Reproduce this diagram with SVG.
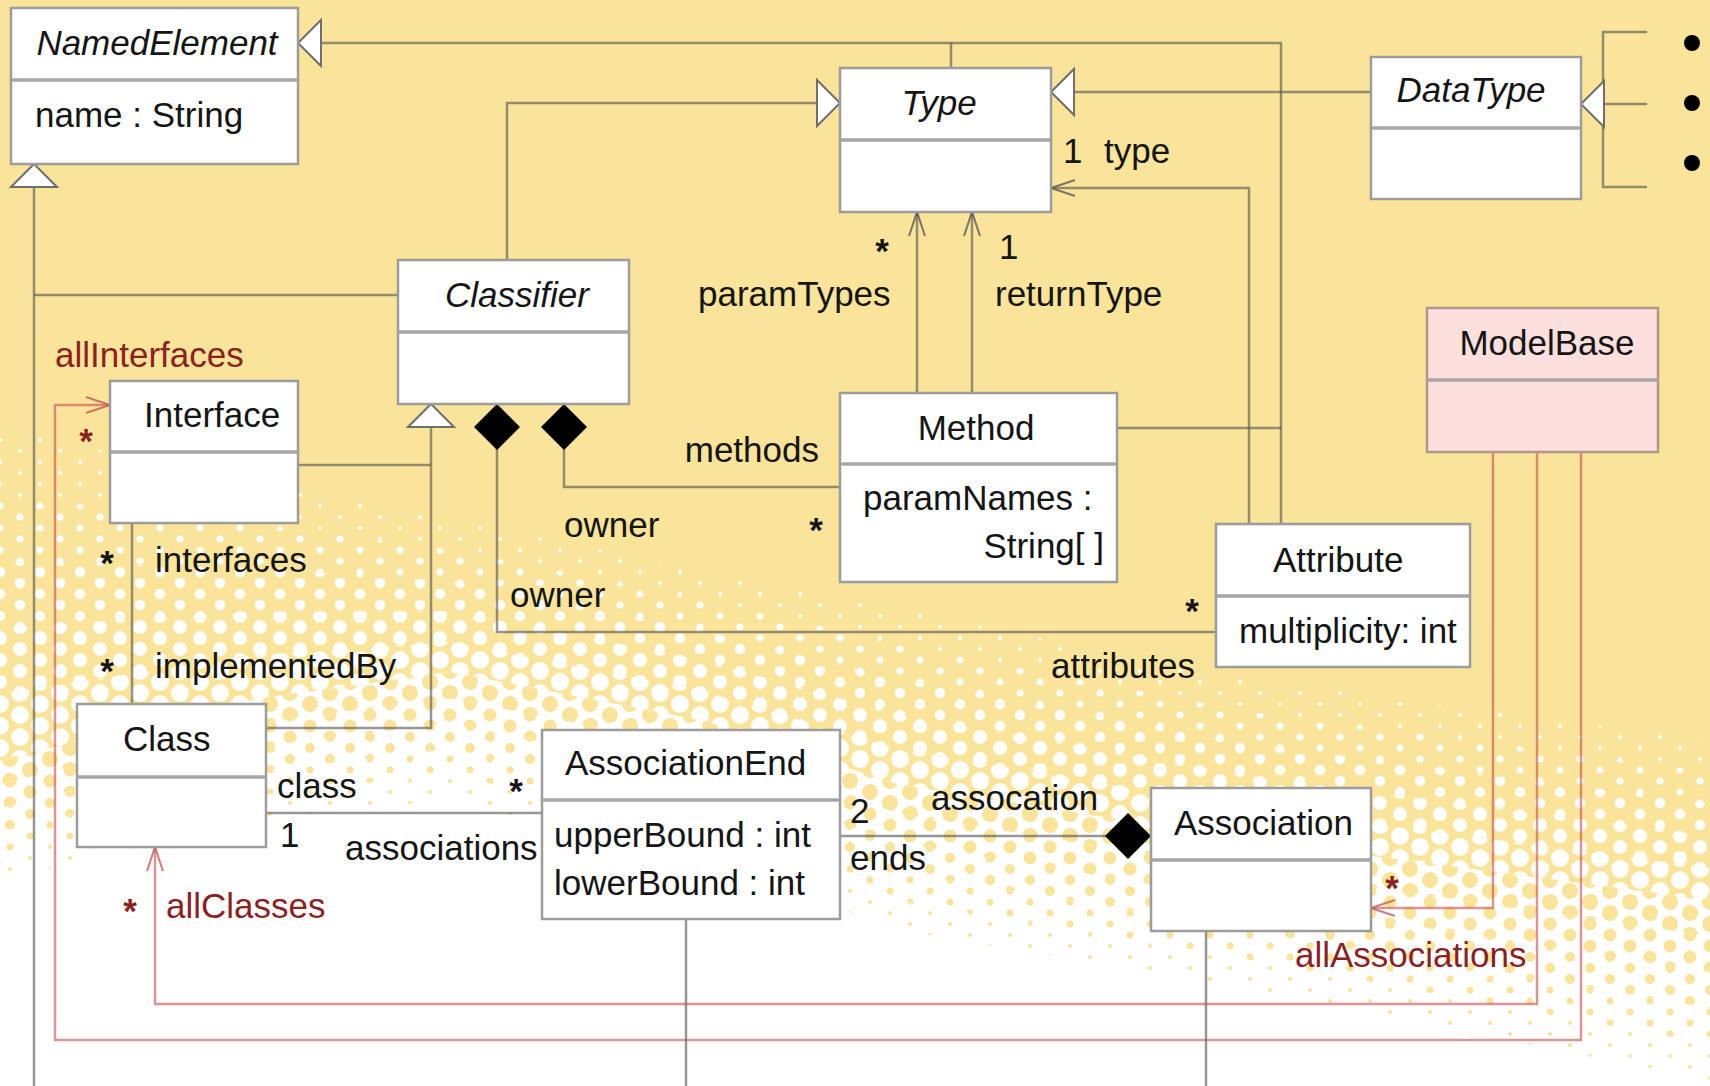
<svg xmlns="http://www.w3.org/2000/svg" width="1710" height="1086" viewBox="0 0 1710 1086">
  <style>
    text { font-family: "Liberation Sans", Arial, sans-serif; font-size: 35px; fill: #151515; }
    .it { font-style: italic; }
    .red { fill: #8c1f1f; }
    .st { font-weight: bold; }
    .mid { text-anchor: middle; }
    .end { text-anchor: end; }
    .box { fill: #ffffff; stroke: #9c9c9c; stroke-width: 2.5; }
    .pink { fill: #fde0dd; stroke: #b0978a; stroke-width: 2.5; }
    .div { stroke: #a6a6a6; stroke-width: 3.5; }
    .ln { fill: none; stroke: #505050; stroke-opacity: 0.6; stroke-width: 2.5; }
    .rl { fill: none; stroke: #c0504d; stroke-opacity: 0.6; stroke-width: 2.5; }
  </style>
  <defs>
    <!-- halftone tiles: white dots on yellow, growing -->
    <pattern id="hw1" patternUnits="userSpaceOnUse" width="40" height="22">
      <g fill="#ffffff"><circle cx="0" cy="0" r="2"/><circle cx="40" cy="0" r="2"/><circle cx="0" cy="22" r="2"/><circle cx="40" cy="22" r="2"/><circle cx="20" cy="11" r="2"/></g>
    </pattern>
    <pattern id="hw2" patternUnits="userSpaceOnUse" width="40" height="22">
      <g fill="#ffffff"><circle cx="0" cy="0" r="3.6"/><circle cx="40" cy="0" r="3.6"/><circle cx="0" cy="22" r="3.6"/><circle cx="40" cy="22" r="3.6"/><circle cx="20" cy="11" r="3.6"/></g>
    </pattern>
    <pattern id="hw3" patternUnits="userSpaceOnUse" width="40" height="22">
      <g fill="#ffffff"><circle cx="0" cy="0" r="5.2"/><circle cx="40" cy="0" r="5.2"/><circle cx="0" cy="22" r="5.2"/><circle cx="40" cy="22" r="5.2"/><circle cx="20" cy="11" r="5.2"/></g>
    </pattern>
    <pattern id="hw4" patternUnits="userSpaceOnUse" width="40" height="22">
      <g fill="#ffffff"><circle cx="0" cy="0" r="7"/><circle cx="40" cy="0" r="7"/><circle cx="0" cy="22" r="7"/><circle cx="40" cy="22" r="7"/><circle cx="20" cy="11" r="7"/></g>
    </pattern>
    <pattern id="hw5" patternUnits="userSpaceOnUse" width="40" height="22">
      <g fill="#ffffff"><circle cx="0" cy="0" r="9"/><circle cx="40" cy="0" r="9"/><circle cx="0" cy="22" r="9"/><circle cx="40" cy="22" r="9"/><circle cx="20" cy="11" r="9"/></g>
    </pattern>
    <!-- halftone tiles: yellow dots on white, shrinking -->
    <pattern id="hy5" patternUnits="userSpaceOnUse" x="10" y="11" width="40" height="22">
      <g fill="#f9e49a"><circle cx="0" cy="0" r="8"/><circle cx="40" cy="0" r="8"/><circle cx="0" cy="22" r="8"/><circle cx="40" cy="22" r="8"/><circle cx="20" cy="11" r="8"/></g>
    </pattern>
    <pattern id="hy4" patternUnits="userSpaceOnUse" x="10" y="11" width="40" height="22">
      <g fill="#f9e49a"><circle cx="0" cy="0" r="6.5"/><circle cx="40" cy="0" r="6.5"/><circle cx="0" cy="22" r="6.5"/><circle cx="40" cy="22" r="6.5"/><circle cx="20" cy="11" r="6.5"/></g>
    </pattern>
    <pattern id="hy3" patternUnits="userSpaceOnUse" x="10" y="11" width="40" height="22">
      <g fill="#f9e49a"><circle cx="0" cy="0" r="5"/><circle cx="40" cy="0" r="5"/><circle cx="0" cy="22" r="5"/><circle cx="40" cy="22" r="5"/><circle cx="20" cy="11" r="5"/></g>
    </pattern>
    <pattern id="hy2" patternUnits="userSpaceOnUse" x="10" y="11" width="40" height="22">
      <g fill="#f9e49a"><circle cx="0" cy="0" r="3.5"/><circle cx="40" cy="0" r="3.5"/><circle cx="0" cy="22" r="3.5"/><circle cx="40" cy="22" r="3.5"/><circle cx="20" cy="11" r="3.5"/></g>
    </pattern>
    <pattern id="hy1" patternUnits="userSpaceOnUse" x="10" y="11" width="40" height="22">
      <g fill="#f9e49a"><circle cx="0" cy="0" r="2"/><circle cx="40" cy="0" r="2"/><circle cx="0" cy="22" r="2"/><circle cx="40" cy="22" r="2"/><circle cx="20" cy="11" r="2"/></g>
    </pattern>

    <!-- hollow generalization triangle, tip at path end -->
    <marker id="gen" markerUnits="userSpaceOnUse" markerWidth="26" markerHeight="48" refX="24" refY="24" orient="auto" overflow="visible">
      <path d="M1,1 L24,24 L1,47 Z" fill="#ffffff" stroke="#6f6f6f" stroke-width="2"/>
    </marker>
    <!-- filled composition diamond, tip at path start -->
    <marker id="dia" markerUnits="userSpaceOnUse" markerWidth="46" markerHeight="46" refX="0" refY="23" orient="auto" overflow="visible">
      <path d="M0,23 L23,0 L46,23 L23,46 Z" fill="#000000"/>
    </marker>
    <!-- open navigation arrows -->
    <marker id="arr" markerUnits="userSpaceOnUse" markerWidth="27" markerHeight="18" refX="25" refY="9" orient="auto" overflow="visible">
      <path d="M1,1 L25,9 L1,17" fill="none" stroke="#505050" stroke-opacity="0.75" stroke-width="2"/>
    </marker>
    <marker id="arrR" markerUnits="userSpaceOnUse" markerWidth="27" markerHeight="18" refX="25" refY="9" orient="auto" overflow="visible">
      <path d="M1,1 L25,9 L1,17" fill="none" stroke="#c0504d" stroke-opacity="0.75" stroke-width="2"/>
    </marker>
  </defs>

  <!-- background: yellow fading to white through a halftone band -->
  <g id="background">
    <rect x="0" y="0" width="1710" height="1086" fill="#f9e49a"/>
    <polygon points="0,760 250,700 450,672 700,720 900,785 1250,840 1710,900 1710,1086 0,1086" fill="#ffffff"/>
    <polygon points="0,430 250,480 450,520 700,570 900,610 1250,680 1710,740 1710,772 1250,712 900,645 700,600 450,550 250,524 0,496" fill="url(#hw1)"/>
    <polygon points="0,496 250,524 450,550 700,600 900,645 1250,712 1710,772 1710,804 1250,744 900,680 700,630 450,581 250,568 0,562" fill="url(#hw2)"/>
    <polygon points="0,562 250,568 450,581 700,630 900,680 1250,744 1710,804 1710,836 1250,776 900,715 700,660 450,611 250,612 0,628" fill="url(#hw3)"/>
    <polygon points="0,628 250,612 450,611 700,660 900,715 1250,776 1710,836 1710,868 1250,808 900,750 700,690 450,642 250,656 0,694" fill="url(#hw4)"/>
    <polygon points="0,694 250,656 450,642 700,690 900,750 1250,808 1710,868 1710,900 1250,840 900,785 700,720 450,672 250,700 0,760" fill="url(#hw5)"/>
    <polygon points="0,760 250,700 450,672 700,720 900,785 1250,840 1710,900 1710,936 1250,870 900,814 700,748 450,698 250,724 0,784" fill="url(#hy5)"/>
    <polygon points="0,784 250,724 450,698 700,748 900,814 1250,870 1710,936 1710,972 1250,900 900,843 700,776 450,723 250,748 0,808" fill="url(#hy4)"/>
    <polygon points="0,808 250,748 450,723 700,776 900,843 1250,900 1710,972 1710,1008 1250,930 900,872 700,804 450,749 250,772 0,832" fill="url(#hy3)"/>
    <polygon points="0,832 250,772 450,749 700,804 900,872 1250,930 1710,1008 1710,1044 1250,960 900,901 700,832 450,774 250,796 0,856" fill="url(#hy2)"/>
    <polygon points="0,856 250,796 450,774 700,832 900,901 1250,960 1710,1044 1710,1080 1250,990 900,930 700,860 450,800 250,820 0,880" fill="url(#hy1)"/>
  </g>

  <g id="connectors">
    <!-- generalizations -->
    <path class="ln" d="M1281,524 V43 H298" marker-end="url(#gen)"/>
    <path class="ln" d="M951,68 V43"/>
    <path class="ln" d="M1117,428 H1281"/>
    <path class="ln" d="M1371,92 H1051" marker-end="url(#gen)"/>
    <path class="ln" d="M507,260 V103 H840" marker-end="url(#gen)"/>
    <path class="ln" d="M1647,32 H1603 V187 H1647"/>
    <path class="ln" d="M1647,104 H1581" marker-end="url(#gen)"/>
    <path class="ln" d="M34,1086 V164" marker-end="url(#gen)"/>
    <path class="ln" d="M34,295 H398"/>
    <path class="ln" d="M266,728 H431 V404" marker-end="url(#gen)"/>
    <path class="ln" d="M298,465 H431"/>
    <path class="ln" d="M686,919 V1086"/>
    <path class="ln" d="M1206,931 V1086"/>
    <!-- associations -->
    <path class="ln" d="M1249,524 V188 H1051" marker-end="url(#arr)"/>
    <path class="ln" d="M917,393 V212" marker-end="url(#arr)"/>
    <path class="ln" d="M972,393 V212" marker-end="url(#arr)"/>
    <path class="ln" d="M132,523 V704"/>
    <path class="ln" d="M266,813 H542"/>
    <!-- compositions -->
    <path class="ln" d="M564,404 V487 H840" marker-start="url(#dia)"/>
    <path class="ln" d="M497,404 V632 H1216" marker-start="url(#dia)"/>
    <path class="ln" d="M1151,836 H840" marker-start="url(#dia)"/>
    <!-- ModelBase navigations -->
    <path class="rl" d="M1493,452 V908 H1371" marker-end="url(#arrR)"/>
    <path class="rl" d="M1537,452 V1004 H155 V847" marker-end="url(#arrR)"/>
    <path class="rl" d="M1581,452 V1040 H55 V405 H110" marker-end="url(#arrR)"/>
    <!-- bullets beside the DataType subtypes -->
    <g fill="#000000">
      <circle cx="1692" cy="43" r="8"/>
      <circle cx="1692" cy="103" r="8"/>
      <circle cx="1692" cy="163" r="8"/>
    </g>
  </g>

  <g id="labels">
    <text x="1063" y="163">1</text>
    <text x="1104" y="163">type</text>
    <text class="st mid" x="882" y="263">*</text>
    <text x="698" y="306">paramTypes</text>
    <text x="999" y="259">1</text>
    <text x="995" y="306">returnType</text>
    <text class="end" x="819" y="462">methods</text>
    <text x="564" y="537">owner</text>
    <text class="st mid" x="816" y="542">*</text>
    <text x="510" y="607">owner</text>
    <text class="st mid" x="1192" y="623">*</text>
    <text class="end" x="1195" y="678">attributes</text>
    <text class="red" x="55" y="367">allInterfaces</text>
    <text class="red st mid" x="86" y="453">*</text>
    <text class="st mid" x="107" y="575">*</text>
    <text x="155" y="572">interfaces</text>
    <text class="st mid" x="107" y="683">*</text>
    <text x="155" y="678">implementedBy</text>
    <text x="277" y="798">class</text>
    <text x="280" y="847">1</text>
    <text x="345" y="860">associations</text>
    <text class="st mid" x="516" y="803">*</text>
    <text x="850" y="823">2</text>
    <text x="931" y="810">assocation</text>
    <text x="850" y="870">ends</text>
    <text class="red st mid" x="1392" y="900">*</text>
    <text class="red" x="1295" y="967">allAssociations</text>
    <text class="red st mid" x="130" y="923">*</text>
    <text class="red" x="166" y="918">allClasses</text>
  </g>

  <g id="NamedElement">
    <rect class="box" x="11" y="8" width="287" height="156"/>
    <line class="div" x1="11" y1="80" x2="298" y2="80"/>
    <text class="it mid" x="157" y="55">NamedElement</text>
    <text x="35" y="127">name : String</text>
  </g>
  <g id="Type">
    <rect class="box" x="840" y="68" width="211" height="144"/>
    <line class="div" x1="840" y1="140" x2="1051" y2="140"/>
    <text class="it mid" x="939" y="115">Type</text>
  </g>
  <g id="DataType">
    <rect class="box" x="1371" y="57" width="210" height="142"/>
    <line class="div" x1="1371" y1="128" x2="1581" y2="128"/>
    <text class="it mid" x="1471" y="102">DataType</text>
  </g>
  <g id="Classifier">
    <rect class="box" x="398" y="260" width="231" height="144"/>
    <line class="div" x1="398" y1="332" x2="629" y2="332"/>
    <text class="it" x="445" y="307">Classifier</text>
  </g>
  <g id="ModelBase">
    <rect class="pink" x="1427" y="308" width="231" height="144"/>
    <line class="div" x1="1427" y1="380" x2="1658" y2="380" stroke="#b59a8e"/>
    <text class="mid" x="1547" y="355">ModelBase</text>
  </g>
  <g id="Interface">
    <rect class="box" x="110" y="381" width="188" height="142"/>
    <line class="div" x1="110" y1="452" x2="298" y2="452"/>
    <text x="144" y="427">Interface</text>
  </g>
  <g id="Method">
    <rect class="box" x="840" y="393" width="277" height="189"/>
    <line class="div" x1="840" y1="464" x2="1117" y2="464"/>
    <text class="mid" x="976" y="440">Method</text>
    <text x="863" y="510">paramNames :</text>
    <text class="end" x="1104" y="558">String[ ]</text>
  </g>
  <g id="Attribute">
    <rect class="box" x="1216" y="524" width="254" height="143"/>
    <line class="div" x1="1216" y1="596" x2="1470" y2="596"/>
    <text x="1273" y="572">Attribute</text>
    <text x="1239" y="643">multiplicity: int</text>
  </g>
  <g id="Class">
    <rect class="box" x="77" y="704" width="189" height="143"/>
    <line class="div" x1="77" y1="777" x2="266" y2="777"/>
    <text x="123" y="751">Class</text>
  </g>
  <g id="AssociationEnd">
    <rect class="box" x="542" y="730" width="298" height="189"/>
    <line class="div" x1="542" y1="800" x2="840" y2="800"/>
    <text x="565" y="775">AssociationEnd</text>
    <text x="554" y="847">upperBound : int</text>
    <text x="554" y="895">lowerBound : int</text>
  </g>
  <g id="Association">
    <rect class="box" x="1151" y="788" width="220" height="143"/>
    <line class="div" x1="1151" y1="860" x2="1371" y2="860"/>
    <text x="1174" y="835">Association</text>
  </g>
</svg>
